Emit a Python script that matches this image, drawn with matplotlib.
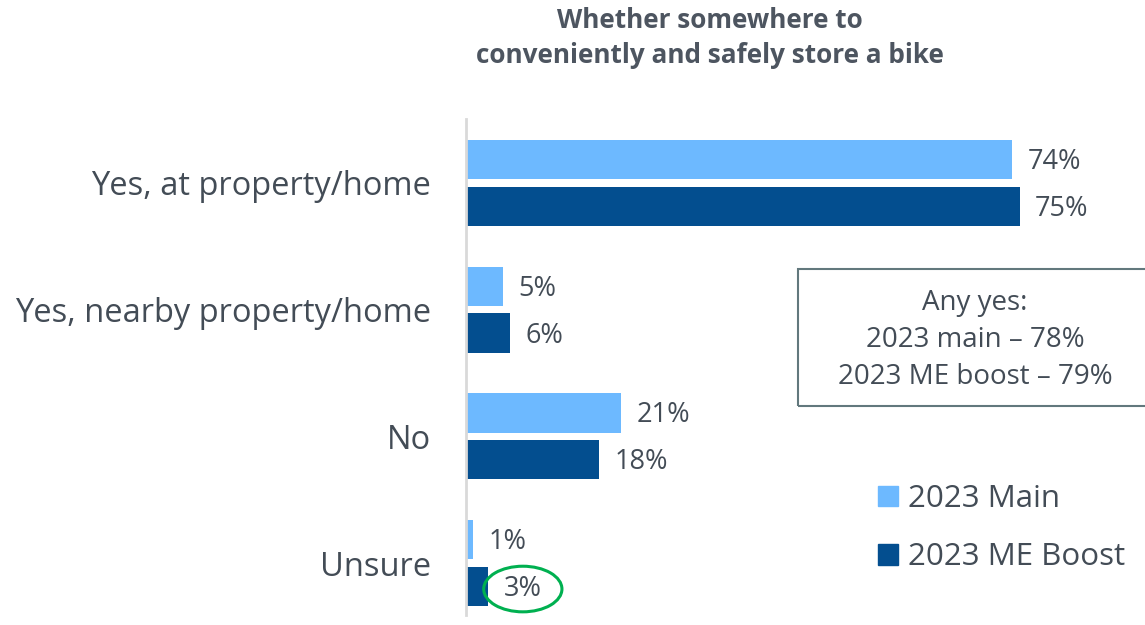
import matplotlib.pyplot as plt
from matplotlib.patches import Ellipse, Rectangle, Patch

plt.rcParams['font.family'] = ['Open Sans', 'DejaVu Sans']

# datos de la encuesta
categorias = ['Yes, at property/home', 'Yes, nearby property/home', 'No', 'Unsure']
main_2023 = [74, 5, 21, 1]
me_boost_2023 = [75, 6, 18, 3]
series = ['2023 Main', '2023 ME Boost']
colores = ['#6DB9FF', '#034E8F']
gris = '#434C56'

fig = plt.figure(figsize=(11.45, 6.25), dpi=100)
ax = fig.add_axes([466 / 1145, 10 / 625, 1 - 466 / 1145, 496 / 625])

y = range(len(categorias))
desp = 0.185
alto = 0.31
ax.barh([i - desp for i in y], main_2023, height=alto, color=colores[0])
ax.barh([i + desp for i in y], me_boost_2023, height=alto, color=colores[1])

# etiquetas de valor
for i in y:
    ax.text(main_2023[i] + 2.1, i - desp + 0.02, f'{main_2023[i]}%', va='center', ha='left',
            fontsize=19.5, color=gris)
    ax.text(me_boost_2023[i] + 2.1, i + desp + 0.02, f'{me_boost_2023[i]}%', va='center',
            ha='left', fontsize=19.5, color=gris)

# circulo verde alrededor del 3%
ult = len(categorias) - 1
ax.add_patch(Ellipse((me_boost_2023[ult] + 4.7, ult + desp + 0.02), 10.6, 0.36,
                     fill=False, edgecolor='#00B050', lw=2.2, clip_on=False))

ax.set_xlim(0, 92)
ax.set_ylim(3.41, -0.505)
ax.set_yticks(list(y))
ax.set_yticklabels(categorias, fontsize=23.5, color=gris)
ax.tick_params(axis='y', length=0, pad=25)
ax.set_xticks([])
for lado in ['top', 'right', 'bottom']:
    ax.spines[lado].set_visible(False)
ax.spines['left'].set_color('#D9D9D9')
ax.spines['left'].set_linewidth(2)

fig.text(710 / 1145, 1 - 38 / 625, 'Whether somewhere to\nconveniently and safely store a bike',
         ha='center', va='center', fontsize=18.8, fontweight='bold', color='#4D5560',
         linespacing=1.35)

# cuadro de "Any yes"
fig.patches.append(Rectangle((798 / 1145, 1 - 406 / 625), 360 / 1145, 137 / 625,
                             transform=fig.transFigure, fill=False,
                             edgecolor='#62787D', lw=1.5))
fig.text(975 / 1145, 1 - 340 / 625, 'Any yes:\n2023 main \u2013 78%\n2023 ME boost \u2013 79%',
         ha='center', va='center', fontsize=20, color=gris, linespacing=1.42)

handles = [Patch(color=c) for c in colores]
fig.legend(handles, series, loc='center left', bbox_to_anchor=(850 / 1145, 1 - 528 / 625),
           frameon=False, fontsize=22.5, labelcolor=gris, handlelength=0.65, handleheight=0.65,
           handletextpad=0.3, labelspacing=0.9)

plt.savefig('out.png', dpi=100)
